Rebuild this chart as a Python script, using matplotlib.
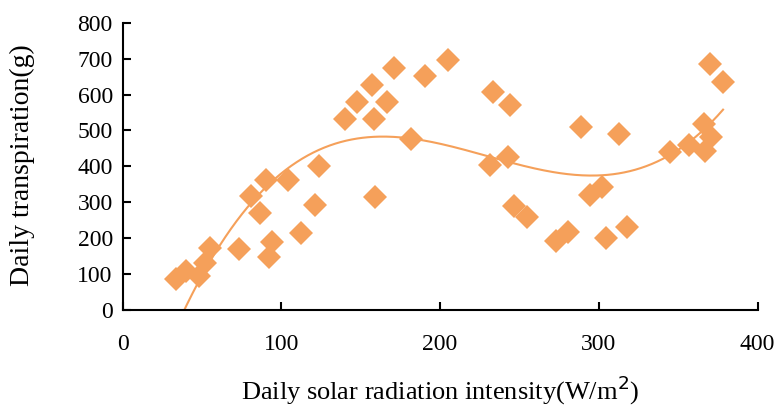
import numpy as np
import matplotlib.pyplot as plt

# daily solar radiation (W/m2) vs daily transpiration (g)
radiation = [33.7, 39.8, 48.2, 52.2, 54.9, 73.4, 80.9, 90.2, 86.8, 94.0, 92.3,
             104.5, 112.6, 121.3, 124.0, 140.0, 147.5, 157.0, 158.2, 166.4, 171.0,
             159.3, 181.7, 190.7, 205.0, 233.6, 243.9, 231.5, 242.6, 246.6, 254.6,
             273.0, 280.4, 288.6, 294.7, 301.9, 304.6, 312.6, 318.0, 344.9, 356.7,
             366.1, 370.5, 367.1, 370.1, 378.3]
transpiration = [86, 109, 95, 130, 172, 169, 318, 361, 271, 190, 148,
                 361, 214, 292, 400, 532, 580, 626, 532, 580, 673,
                 315, 477, 652, 695, 606, 572, 403, 425, 289, 258,
                 191, 216, 510, 321, 343, 201, 489, 232, 440, 460,
                 519, 483, 443, 684, 635]

x_ticks = [0, 100, 200, 300, 400]
y_ticks = [0, 100, 200, 300, 400, 500, 600, 700, 800]

color = '#F5A05A'
plt.rcParams['font.family'] = ['Liberation Serif', 'DejaVu Serif']

fig = plt.figure(figsize=(7.83, 4.07), dpi=100)
ax = fig.add_axes([122.5 / 783, 97 / 407, 635 / 783, 287.3 / 407])

ax.plot(radiation, transpiration, linestyle='none', marker='D', markersize=12,
        color=color, markeredgewidth=0)

# cubic trend line like the spreadsheet one
coef = np.polyfit(radiation, transpiration, 3)
xs = np.linspace(min(radiation), max(radiation), 300)
ax.plot(xs, np.polyval(coef, xs), color=color, linewidth=1.5)

ax.set_xlim(0, 400)
ax.set_ylim(0, 800)
ax.set_xticks(x_ticks)
ax.set_yticks(y_ticks)
ax.tick_params(direction='in', length=6, width=1.5, labelsize=17, pad=7)
ax.tick_params(axis='x', pad=17)
for side in ['top', 'right']:
    ax.spines[side].set_visible(False)
for side in ['left', 'bottom']:
    ax.spines[side].set_linewidth(1.5)

fig.text(440 / 783, 1 - 390 / 407, 'Daily solar radiation intensity(W/m$^2$)',
         fontsize=19, ha='center', va='center')
fig.text(22 / 783, 1 - 165 / 407, 'Daily transpiration(g)', fontsize=20,
         rotation=90, ha='center', va='center')

fig.savefig('out.png', dpi=100)
